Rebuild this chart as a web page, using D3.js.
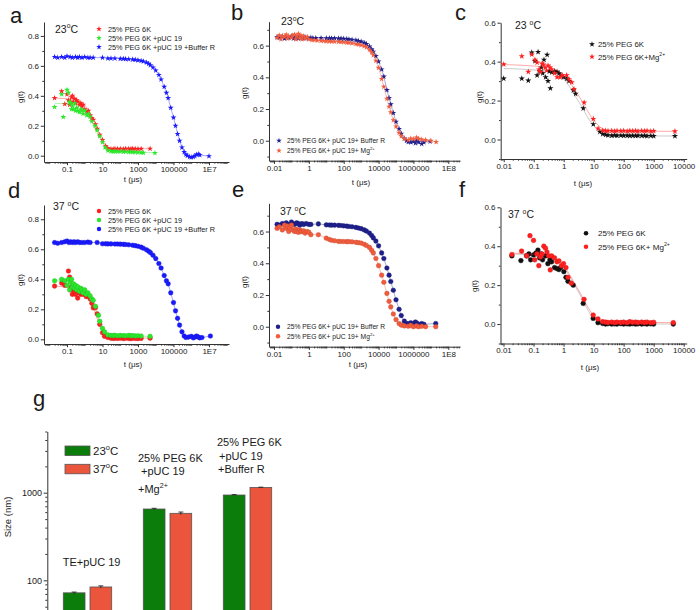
<!DOCTYPE html>
<html>
<head>
<meta charset="utf-8">
<script src="https://cdn.jsdelivr.net/npm/d3@7"></script>
<style>
  body { margin: 0; background: #fff; }
  svg { display: block; }
  text { font-family: "Liberation Sans", Arial, sans-serif; fill: #1a1a1a; }
</style>
</head>
<body>
<svg id="fig" width="700" height="610"></svg>
<script>
// ---- correlation data, [t (us), g(t)] ----

// a: 23 C
const aPeg = [[0.02,0.385],[0.05,0.43],[0.075,0.345],[0.1,0.41],[0.12,0.37],[0.14,0.34],[0.16,0.36],[0.18,0.39],[0.2,0.4],[0.23,0.36],[0.27,0.38],[0.3,0.35],[0.35,0.37],[0.4,0.36],[0.5,0.34],[0.6,0.35],[0.7,0.33],[0.8,0.34],[1,0.31],[1.3,0.29],[1.6,0.3],[2,0.27],[2.5,0.25],[3,0.24],[4,0.21],[5,0.18],[7,0.14],[10,0.105],[15,0.065],[20,0.05],[30,0.045],[40,0.044],[50,0.047],[70,0.045],[100,0.046],[150,0.044],[200,0.047],[300,0.046],[400,0.045],[500,0.047],[700,0.046],[1000,0.045],[1500,0.046],[4800,0.047]];
const aPuc = [[0.02,0.325],[0.05,0.41],[0.062,0.258],[0.1,0.44],[0.12,0.42],[0.14,0.36],[0.16,0.35],[0.18,0.31],[0.2,0.33],[0.23,0.31],[0.27,0.35],[0.3,0.3],[0.35,0.32],[0.4,0.3],[0.5,0.29],[0.6,0.31],[0.7,0.3],[0.8,0.28],[1,0.3],[1.3,0.27],[1.6,0.28],[2,0.26],[2.5,0.23],[3.8,0.2],[5,0.17],[7,0.13],[10,0.09],[14,0.055],[20,0.035],[30,0.03],[40,0.028],[50,0.03],[70,0.027],[100,0.028],[150,0.026],[200,0.027],[300,0.025],[400,0.026],[500,0.024],[700,0.024],[1000,0.022],[1500,0.021],[2000,0.02],[9000,0.018]];
const aBuf = [[0.02,0.66],[0.03,0.655],[0.05,0.66],[0.075,0.655],[0.1,0.665],[0.15,0.66],[0.2,0.655],[0.3,0.66],[0.4,0.655],[0.5,0.66],[0.7,0.655],[1,0.66],[1.5,0.655],[2,0.655],[3,0.655],[10,0.655],[20,0.65],[30,0.65],[50,0.65],[100,0.648],[150,0.647],[200,0.646],[300,0.645],[500,0.643],[700,0.641],[1000,0.638],[1500,0.634],[2000,0.63],[3000,0.622],[4000,0.614],[5000,0.605],[7000,0.59],[1e4,0.57],[1.5e4,0.54],[2e4,0.51],[3e4,0.46],[4e4,0.42],[5e4,0.385],[7e4,0.32],[1e5,0.255],[1.3e5,0.2],[1.7e5,0.145],[2.2e5,0.1],[3e5,0.055],[4e5,0.025],[5e5,0.008],[6e5,0],[8e5,-0.008],[1e6,-0.01],[1.3e6,-0.008],[1.6e6,-0.002],[2e6,0.008],[2.5e6,0.01],[3e6,0.005],[1e7,-0.003]];
const aPegFit = [[0.02,0.385],[0.3,0.375],[1,0.34],[3,0.24],[10,0.1],[30,0.05],[4800,0.046]];
const aPucFit = [[0.02,0.35],[0.3,0.34],[1,0.3],[3,0.21],[10,0.09],[30,0.033],[9000,0.02]];

// d: 37 C
const dPeg = [[0.02,0.355],[0.05,0.375],[0.075,0.36],[0.12,0.455],[0.14,0.415],[0.16,0.33],[0.18,0.35],[0.2,0.3],[0.23,0.34],[0.27,0.32],[0.3,0.3],[0.35,0.33],[0.4,0.275],[0.5,0.31],[0.6,0.3],[0.7,0.32],[0.8,0.3],[1,0.31],[1.2,0.285],[1.5,0.29],[2,0.27],[2.5,0.24],[3,0.21],[4,0.21],[5,0.17],[7,0.1],[10,0.044],[13,0.02],[20,0.012],[30,0.008],[40,0.006],[50,0.008],[70,0.006],[100,0.007],[150,0.005],[200,0.007],[300,0.006],[400,0.005],[500,0.007],[700,0.006],[1000,0.005],[1500,0.006],[4800,0.008]];
const dPuc = [[0.02,0.39],[0.05,0.4],[0.075,0.39],[0.1,0.36],[0.12,0.4],[0.14,0.33],[0.16,0.38],[0.18,0.4],[0.2,0.35],[0.23,0.37],[0.27,0.34],[0.3,0.36],[0.35,0.33],[0.4,0.35],[0.5,0.32],[0.6,0.34],[0.7,0.33],[0.8,0.31],[1,0.33],[1.2,0.3],[1.5,0.31],[2,0.29],[2.5,0.27],[3,0.26],[4,0.22],[5.9,0.16],[7,0.12],[10,0.073],[13,0.05],[20,0.03],[30,0.026],[40,0.025],[50,0.027],[70,0.024],[100,0.026],[150,0.025],[200,0.024],[300,0.026],[400,0.024],[500,0.025],[700,0.023],[1000,0.024],[1500,0.022],[4800,0.02]];
const dBuf = [[0.02,0.645],[0.03,0.64],[0.05,0.645],[0.075,0.65],[0.1,0.655],[0.13,0.645],[0.16,0.65],[0.2,0.645],[0.25,0.65],[0.3,0.645],[0.4,0.65],[0.5,0.645],[0.7,0.645],[1,0.645],[1.5,0.648],[2,0.645],[5,0.645],[10,0.637],[15,0.637],[20,0.636],[30,0.636],[50,0.635],[70,0.635],[100,0.634],[150,0.633],[200,0.632],[300,0.63],[500,0.627],[700,0.624],[1000,0.62],[1500,0.614],[2000,0.607],[3000,0.597],[4000,0.587],[5000,0.578],[7000,0.56],[1e4,0.538],[1.5e4,0.505],[2e4,0.475],[3e4,0.425],[4e4,0.39],[5e4,0.37],[7e4,0.31],[1e5,0.245],[1.3e5,0.19],[1.7e5,0.14],[2.2e5,0.095],[3e5,0.05],[4e5,0.022],[5e5,0.012],[7e5,0.015],[1e6,0.02],[1.3e6,0.01],[1.6e6,0.015],[2e6,0.022],[2.5e6,0.015],[3e6,0.01],[4e6,0.012],[1.2e7,0.022]];
const dPegFit = [[0.02,0.355],[0.3,0.335],[1,0.3],[3,0.21],[10,0.05],[20,0.015],[4800,0.008]];
const dPucFit = [[0.02,0.39],[0.3,0.37],[1,0.33],[3,0.25],[10,0.07],[20,0.03],[4800,0.02]];

// b: 23 C
const bBuf = [[0.015,0.655],[0.02,0.65],[0.03,0.66],[0.04,0.645],[0.05,0.655],[0.07,0.65],[0.1,0.66],[0.13,0.645],[0.17,0.655],[0.2,0.65],[0.25,0.645],[0.3,0.66],[0.4,0.65],[0.5,0.645],[0.6,0.655],[0.8,0.65],[1,0.645],[1.3,0.65],[1.7,0.648],[2.5,0.648],[5,0.648],[10,0.647],[15,0.647],[20,0.646],[30,0.646],[50,0.645],[70,0.645],[100,0.644],[150,0.642],[200,0.64],[300,0.638],[500,0.634],[700,0.63],[1000,0.626],[1500,0.618],[2000,0.61],[3000,0.595],[4000,0.578],[5000,0.562],[7000,0.535],[1e4,0.5],[1.5e4,0.45],[2e4,0.405],[3e4,0.32],[4e4,0.27],[5e4,0.23],[7e4,0.175],[1e5,0.12],[1.5e5,0.075],[2e5,0.045],[3e5,0.015],[4e5,0],[5e5,-0.008],[7e5,-0.01],[1e6,-0.005],[1.3e6,-0.015],[1.6e6,0.002],[2e6,-0.01],[3e6,-0.02],[4e6,-0.01],[9e6,-0.005]];
const bMg = [[0.015,0.65],[0.02,0.665],[0.025,0.64],[0.03,0.66],[0.04,0.655],[0.05,0.67],[0.06,0.645],[0.07,0.66],[0.1,0.65],[0.12,0.665],[0.15,0.67],[0.18,0.64],[0.2,0.66],[0.25,0.675],[0.3,0.65],[0.35,0.665],[0.4,0.64],[0.5,0.66],[0.6,0.645],[0.8,0.655],[1,0.64],[1.5,0.635],[2,0.635],[3,0.632],[5,0.63],[7,0.63],[10,0.628],[15,0.627],[20,0.626],[30,0.625],[50,0.624],[70,0.623],[100,0.622],[150,0.62],[200,0.618],[300,0.615],[500,0.61],[700,0.607],[1000,0.603],[1500,0.597],[2000,0.59],[3000,0.575],[4000,0.558],[5000,0.54],[7000,0.505],[1e4,0.46],[1.5e4,0.39],[2e4,0.34],[3e4,0.265],[4e4,0.215],[5e4,0.18],[7e4,0.13],[1e5,0.09],[1.5e5,0.05],[2e5,0.028],[3e5,0.012],[5e5,0.005],[7e5,0.015],[1e6,0.01],[1.5e6,0.02],[2e6,0.012],[3e6,0.008],[5e6,0.005],[1e7,0],[2e7,-0.008]];

// e: 37 C
const eBuf = [[0.015,0.645],[0.02,0.64],[0.03,0.65],[0.04,0.645],[0.05,0.655],[0.07,0.645],[0.1,0.66],[0.12,0.65],[0.15,0.645],[0.2,0.655],[0.25,0.65],[0.3,0.64],[0.4,0.65],[0.5,0.645],[0.7,0.65],[1,0.645],[1.3,0.645],[3.5,0.648],[10,0.642],[15,0.641],[20,0.64],[30,0.64],[50,0.639],[70,0.638],[100,0.636],[150,0.634],[200,0.632],[300,0.63],[500,0.626],[700,0.622],[1000,0.618],[1500,0.61],[2000,0.603],[3000,0.59],[4000,0.575],[5000,0.56],[7000,0.54],[1e4,0.51],[1.5e4,0.465],[2e4,0.43],[3e4,0.37],[4e4,0.325],[5e4,0.285],[7e4,0.23],[1e5,0.17],[1.5e5,0.11],[2e5,0.07],[3e5,0.035],[4e5,0.02],[5e5,0.018],[7e5,0.025],[1e6,0.02],[1.3e6,0.03],[1.6e6,0.022],[2e6,0.015],[3e6,0.02],[4e6,0.015],[1.9e7,0.02]];
const eMg = [[0.015,0.62],[0.02,0.63],[0.03,0.61],[0.04,0.64],[0.05,0.62],[0.06,0.635],[0.07,0.6],[0.08,0.625],[0.1,0.64],[0.12,0.61],[0.15,0.6],[0.18,0.615],[0.2,0.6],[0.25,0.595],[0.3,0.61],[0.35,0.6],[0.4,0.6],[0.5,0.605],[0.6,0.59],[0.8,0.6],[1,0.595],[1.3,0.58],[3.5,0.58],[10,0.558],[15,0.55],[20,0.545],[30,0.542],[50,0.538],[70,0.537],[100,0.537],[150,0.536],[200,0.536],[300,0.535],[500,0.532],[700,0.53],[1000,0.527],[1500,0.52],[2000,0.512],[3000,0.5],[4000,0.482],[5000,0.465],[7000,0.43],[1e4,0.385],[1.5e4,0.325],[2e4,0.28],[3e4,0.21],[4e4,0.16],[5e4,0.125],[7e4,0.08],[1e5,0.045],[1.5e5,0.02],[2e5,0.01],[3e5,0.005],[5e5,0.003],[7e5,0.008],[1e6,0],[1.5e6,0.005],[2e6,0],[3e6,0.003],[5e6,0],[1.9e7,0]];

// c: 23 C
const cPeg = [[0.01,0.313],[0.04,0.313],[0.066,0.303],[0.086,0.447],[0.11,0.403],[0.13,0.33],[0.14,0.45],[0.16,0.35],[0.18,0.37],[0.2,0.34],[0.22,0.41],[0.25,0.32],[0.28,0.435],[0.3,0.3],[0.33,0.35],[0.36,0.263],[0.4,0.345],[0.5,0.35],[0.6,0.348],[0.7,0.34],[0.8,0.33],[1,0.32],[1.26,0.313],[1.5,0.3],[2.1,0.253],[2.5,0.235],[4.5,0.16],[9.7,0.079],[16,0.04],[20,0.028],[25,0.025],[30,0.022],[40,0.02],[50,0.022],[60,0.02],[80,0.021],[100,0.02],[130,0.02],[160,0.019],[200,0.02],[250,0.019],[300,0.02],[400,0.019],[500,0.02],[600,0.018],[800,0.019],[1000,0.018],[5100,0.018]];
const cMg = [[0.01,0.386],[0.04,0.428],[0.066,0.348],[0.086,0.437],[0.11,0.41],[0.13,0.395],[0.15,0.36],[0.17,0.347],[0.19,0.39],[0.21,0.385],[0.24,0.37],[0.27,0.355],[0.3,0.38],[0.35,0.37],[0.4,0.36],[0.5,0.34],[0.6,0.32],[0.76,0.32],[0.9,0.33],[1.26,0.33],[1.5,0.31],[1.85,0.294],[2.2,0.26],[4.8,0.19],[9.7,0.106],[14,0.057],[20,0.046],[25,0.045],[30,0.044],[40,0.045],[50,0.043],[60,0.045],[80,0.044],[100,0.045],[130,0.043],[160,0.045],[200,0.044],[250,0.045],[300,0.043],[400,0.045],[500,0.044],[600,0.045],[800,0.043],[1000,0.044],[5100,0.042]];
const cPegFit = [[0.01,0.365],[0.3,0.35],[1,0.31],[3,0.2],[10,0.07],[20,0.03],[30,0.02],[5100,0.018]];
const cMgFit = [[0.01,0.385],[0.3,0.37],[1,0.33],[3,0.23],[10,0.1],[20,0.055],[40,0.045],[5100,0.042]];

// f: 37 C
const fPeg = [[0.019,0.35],[0.038,0.326],[0.059,0.351],[0.07,0.36],[0.08,0.33],[0.1,0.355],[0.12,0.365],[0.14,0.38],[0.16,0.34],[0.18,0.36],[0.2,0.33],[0.25,0.35],[0.3,0.31],[0.35,0.33],[0.4,0.32],[0.5,0.29],[0.6,0.285],[0.7,0.28],[0.8,0.29],[1.02,0.269],[1.2,0.24],[1.4,0.22],[2.1,0.2],[4.5,0.106],[9.7,0.029],[14,0.007],[20,0.003],[25,0],[30,0.002],[40,0],[50,0.001],[60,0],[80,0.002],[100,0],[130,0.001],[160,0],[200,0.002],[250,0],[300,0.001],[400,0],[500,0.002],[600,0],[800,0.001],[1000,0],[4500,0]];
const fMg = [[0.019,0.357],[0.04,0.375],[0.059,0.35],[0.076,0.454],[0.1,0.43],[0.11,0.33],[0.13,0.36],[0.15,0.3],[0.17,0.345],[0.19,0.36],[0.22,0.4],[0.25,0.39],[0.28,0.37],[0.32,0.35],[0.36,0.278],[0.4,0.35],[0.5,0.34],[0.6,0.32],[0.7,0.325],[0.85,0.3],[1,0.31],[1.2,0.29],[1.4,0.24],[1.8,0.21],[4.8,0.127],[9.7,0.046],[14,0.026],[20,0.012],[25,0.01],[30,0.008],[40,0.01],[50,0.007],[60,0.01],[80,0.008],[100,0.01],[130,0.007],[160,0.012],[200,0.009],[250,0.01],[300,0.008],[400,0.01],[500,0.008],[600,0.01],[800,0.007],[1000,0.009],[4500,0.007]];
const fPegFit = [[0.019,0.36],[0.3,0.345],[1,0.29],[3,0.17],[10,0.03],[20,0.003],[4500,0]];
const fMgFit = [[0.019,0.365],[0.3,0.35],[1,0.3],[3,0.18],[10,0.045],[20,0.012],[4500,0.007]];

// tick labels
const ticksAD = [[0.1,"0.1"],[10,"10"],[1000,"1000"],[1e5,"100000"],[1e7,"1E7"]];
const ticksBE = [[0.01,"0.01"],[1,"1"],[100,"100"],[1e4,"10000"],[1e6,"1000000"],[1e8,"1E8"]];
const ticksCF = [[0.01,"0.01"],[0.1,"0.1"],[1,"1"],[10,"10"],[100,"100"],[1000,"1000"],[1e4,"10000"]];

// g: hydrodynamic size (nm)
const sizeGroups = ["TE+pUC 19", "PEG+pUC+Mg", "PEG+pUC+BufferR"];
const temps = ["23", "37"];
const size23 = [72, 652, 942];
const size37 = [84, 582, 1150];
const err23 = [1.5, 12, 10];
const err37 = [2.5, 20, 8];

const svg = d3.select("#fig");

// text with superscript parts: strings or {sup: "..."}
function richText(parent, x, y, parts, size, anchor) {
  const t = parent.append("text").attr("x", x).attr("y", y)
    .attr("font-size", size).attr("text-anchor", anchor || "start");
  let shift = 0;
  parts.forEach(p => {
    const sup = typeof p !== "string";
    const want = sup ? -size * 0.42 : 0;
    const ts = t.append("tspan").text(sup ? p.sup : p).attr("dy", want - shift);
    if (sup) ts.attr("font-size", size * 0.65);
    shift = want;
  });
  return t;
}

function dlsPanel(p) {
  const x = d3.scaleLog().domain(p.xDomain).range([p.left, p.right]);
  const y = d3.scaleLinear().domain(p.yDomain).range([p.bottom, p.top]);
  const g = svg.append("g").attr("color", "#333");

  // x axis: minor ticks, then labelled decades
  const e0 = Math.floor(Math.log10(p.xDomain[0])), e1 = Math.ceil(Math.log10(p.xDomain[1]));
  const labels = new Map(p.xTicks.map(([v, l]) => [Math.round(Math.log10(v)), l]));
  const minor = [], major = [];
  for (let e = e0; e <= e1; e++) {
    for (let m = 1; m < 10; m++) {
      const v = m * Math.pow(10, e);
      if (v < p.xDomain[0] || v > p.xDomain[1]) continue;
      if (m === 1 && labels.has(e)) major.push(v); else minor.push(v);
    }
  }
  g.append("g").attr("transform", `translate(0,${p.bottom})`)
    .call(d3.axisBottom(x).tickValues(minor).tickSize(1.7).tickFormat(""))
    .call(a => a.select(".domain").remove());
  g.append("g").attr("transform", `translate(0,${p.bottom})`)
    .call(d3.axisBottom(x).tickValues(major).tickSize(3.2).tickSizeOuter(0).tickPadding(1)
      .tickFormat(v => labels.get(Math.round(Math.log10(v)))))
    .attr("font-size", 8).attr("font-family", "Liberation Sans, Arial, sans-serif");

  // y axis
  g.append("g").attr("transform", `translate(${p.left},0)`)
    .call(d3.axisLeft(y).tickValues(p.yMinor).tickSize(1.7).tickFormat(""))
    .call(a => a.select(".domain").remove());
  g.append("g").attr("transform", `translate(${p.left},0)`)
    .call(d3.axisLeft(y).tickValues(p.yTicks).tickSize(3.2).tickSizeOuter(0).tickPadding(1.8)
      .tickFormat(d3.format(".1f")))
    .attr("font-size", 8).attr("font-family", "Liberation Sans, Arial, sans-serif");

  const symType = p.marker === "star" ? d3.symbolStar : d3.symbolCircle;
  const sym = d3.symbol(symType).size(p.markerSize);

  // series: fit / guide line then markers
  p.series.forEach(s => {
    const line = d3.line().x(d => x(d[0])).y(d => y(d[1]));
    if (s.fit) line.curve(d3.curveMonotoneX);
    g.append("path").datum(s.fit || s.data).attr("d", line)
      .attr("fill", "none").attr("stroke", s.line || s.color)
      .attr("stroke-width", 0.7).attr("opacity", 0.55);
    g.append("g").selectAll("path").data(s.data).join("path")
      .attr("transform", d => `translate(${x(d[0])},${y(d[1])})`)
      .attr("d", sym).attr("fill", s.color)
      .attr("stroke", p.marker === "star" ? "none" : d3.color(s.color).darker(0.6))
      .attr("stroke-width", 0.4);
  });

  // legend
  const lg = p.legend;
  p.series.forEach((s, i) => {
    const cy = lg.rows[i];
    g.append("path").attr("transform", `translate(${lg.mx},${cy})`)
      .attr("d", d3.symbol(symType).size(p.markerSize * 0.9)).attr("fill", s.color);
    richText(g, lg.tx, cy + lg.size * 0.36, s.label, lg.size);
  });

  // temperature, axis titles, panel letter
  richText(g, p.temp.x, p.temp.y, [p.temp.text, {sup: "o"}, "C"], 10.5);
  g.append("text").attr("transform", `translate(${p.gLab[0]},${p.gLab[1]}) rotate(-90)`)
    .attr("text-anchor", "middle").attr("font-size", 8).text("g(t)");
  g.append("text").attr("x", p.tLab[0]).attr("y", p.tLab[1])
    .attr("text-anchor", "middle").attr("font-size", 8).text("t (\u03bcs)");
  g.append("text").attr("x", p.letter[0]).attr("y", p.letter[1])
    .attr("font-size", 22).text(p.letter[2]);
}

const RED = "#ff1f1f", GREEN = "#2be82b", BLUE = "#1a1aff";
const NAVY = "#1f1f8c", CORAL = "#f25c3d", BLACK = "#111111";

dlsPanel({
  left: 44, right: 229, top: 22, bottom: 162,
  xDomain: [0.00506, 1.34e8], yDomain: [-0.042, 0.893],
  xTicks: ticksAD, yTicks: [0, 0.2, 0.4, 0.6, 0.8], yMinor: [0.1, 0.3, 0.5, 0.7],
  marker: "star", markerSize: 11,
  series: [
    {data: aPeg, fit: aPegFit, color: RED, label: ["25% PEG 6K"]},
    {data: aPuc, fit: aPucFit, color: GREEN, label: ["25% PEG 6K +pUC 19"]},
    {data: aBuf, color: BLUE, label: ["25% PEG 6K +pUC 19 +Buffer R"]}
  ],
  legend: {mx: 99, tx: 108, rows: [29, 38, 47], size: 7.3},
  temp: {x: 55, y: 32.5, text: "23"},
  gLab: [23, 97], tLab: [133, 182], letter: [10, 23, "a"]
});

dlsPanel({
  left: 44, right: 229, top: 205, bottom: 344,
  xDomain: [0.00506, 1.34e8], yDomain: [-0.031, 0.895],
  xTicks: ticksAD, yTicks: [0, 0.2, 0.4, 0.6, 0.8], yMinor: [0.1, 0.3, 0.5, 0.7],
  marker: "circle", markerSize: 17,
  series: [
    {data: dPeg, fit: dPegFit, color: RED, label: ["25% PEG 6K"]},
    {data: dPuc, fit: dPucFit, color: GREEN, label: ["25% PEG 6K +pUC 19"]},
    {data: dBuf, color: BLUE, label: ["25% PEG 6K +pUC 19 +Buffer R"]}
  ],
  legend: {mx: 99, tx: 108, rows: [211, 220, 229], size: 7.3},
  temp: {x: 53, y: 210, text: "37 "},
  gLab: [23, 280], tLab: [133, 367], letter: [8, 198, "d"]
});

dlsPanel({
  left: 269, right: 460, top: 21.7, bottom: 160.7,
  xDomain: [0.00516, 4.69e8], yDomain: [-0.126, 0.751],
  xTicks: ticksBE, yTicks: [0, 0.2, 0.4, 0.6], yMinor: [-0.1, 0.1, 0.3, 0.5, 0.7],
  marker: "star", markerSize: 11,
  series: [
    {data: bBuf, color: NAVY, label: ["25% PEG 6K+ pUC 19+ Buffer R"]},
    {data: bMg, color: CORAL, label: ["25% PEG 6K+ pUC 19+ Mg", {sup: "2+"}]}
  ],
  legend: {mx: 279, tx: 287, rows: [140.7, 150.7], size: 6.7},
  temp: {x: 281, y: 25, text: "23"},
  gLab: [247, 93], tLab: [361, 184.5], letter: [231, 20, "b"]
});

dlsPanel({
  left: 269, right: 460, top: 203.3, bottom: 346.7,
  xDomain: [0.00516, 4.69e8], yDomain: [-0.126, 0.778],
  xTicks: ticksBE, yTicks: [0, 0.2, 0.4, 0.6], yMinor: [-0.1, 0.1, 0.3, 0.5, 0.7],
  marker: "circle", markerSize: 17,
  series: [
    {data: eBuf, color: NAVY, label: ["25% PEG 6K+ pUC 19+ Buffer R"]},
    {data: eMg, color: CORAL, label: ["25% PEG 6K+ pUC 19+ Mg", {sup: "2+"}]}
  ],
  legend: {mx: 278, tx: 287, rows: [326.7, 336.3], size: 6.7},
  temp: {x: 280, y: 215, text: "37 "},
  gLab: [247, 282], tLab: [358, 367], letter: [232, 197, "e"]
});

dlsPanel({
  left: 500.7, right: 686.7, top: 22.7, bottom: 159,
  xDomain: [0.00794, 12590], yDomain: [-0.1, 0.6],
  xTicks: ticksCF, yTicks: [0, 0.2, 0.4, 0.6], yMinor: [-0.1, 0.1, 0.3, 0.5],
  marker: "star", markerSize: 12,
  series: [
    {data: cPeg, fit: cPegFit, color: BLACK, line: "#777", label: ["25% PEG 6K"]},
    {data: cMg, fit: cMgFit, color: RED, label: ["25% PEG 6K+Mg", {sup: "2+"}]}
  ],
  legend: {mx: 592, tx: 598, rows: [44.3, 56.7], size: 7.8},
  temp: {x: 515, y: 29.3, text: "23 "},
  gLab: [482, 97], tLab: [583, 186], letter: [455, 20, "c"]
});

dlsPanel({
  left: 500.5, right: 686.7, top: 207.3, bottom: 343.5,
  xDomain: [0.00794, 12590], yDomain: [-0.1, 0.6],
  xTicks: ticksCF, yTicks: [0, 0.2, 0.4, 0.6], yMinor: [-0.1, 0.1, 0.3, 0.5],
  marker: "circle", markerSize: 18,
  series: [
    {data: fPeg, fit: fPegFit, color: BLACK, line: "#777", label: ["25% PEG 6K"]},
    {data: fMg, fit: fMgFit, color: RED, label: ["25% PEG 6K+ Mg", {sup: "2+"}]}
  ],
  legend: {mx: 586, tx: 598, rows: [233.3, 246.7], size: 8.1},
  temp: {x: 508, y: 218, text: "37 "},
  gLab: [477, 286], tLab: [590, 370], letter: [459, 197, "f"]
});

// ---- panel g: bar chart on log axis ----
(function sizeChart() {
  const g = svg.append("g").attr("color", "#333");
  const y = d3.scaleLog().domain([40, 5000]).range([615.2, 431.5]);
  const x0 = d3.scaleBand().domain(sizeGroups).range([47.5, 287.5])
    .paddingInner(0.395).paddingOuter(0.1975);
  const x1 = d3.scaleBand().domain(temps).range([0, x0.bandwidth()]).paddingInner(0.187);
  const fills = {"23": "#0b7d0b", "37": "#ea553b"};

  const minor = [50, 60, 70, 80, 90, 200, 300, 400, 500, 600, 700, 800, 900, 2000, 3000, 4000, 5000];
  g.append("g").attr("transform", "translate(47.3,0)")
    .call(d3.axisLeft(y).tickValues(minor).tickSize(2).tickFormat(""))
    .call(a => a.select(".domain").remove());
  g.append("g").attr("transform", "translate(47.3,0)")
    .call(d3.axisLeft(y).tickValues([100, 1000]).tickSize(3.6).tickSizeOuter(0)
      .tickPadding(1.6).tickFormat(d3.format("d")))
    .attr("font-size", 9).attr("font-family", "Liberation Sans, Arial, sans-serif");

  const rows = sizeGroups.map((k, i) => [
    {grp: k, temp: "23", v: size23[i], e: err23[i]},
    {grp: k, temp: "37", v: size37[i], e: err37[i]}
  ]).flat();

  g.selectAll("rect.bar").data(rows).join("rect").attr("class", "bar")
    .attr("x", d => x0(d.grp) + x1(d.temp))
    .attr("y", d => y(d.v))
    .attr("width", x1.bandwidth())
    .attr("height", d => y(40) - y(d.v))
    .attr("fill", d => fills[d.temp])
    .attr("stroke", "#555").attr("stroke-width", 0.8);

  const eb = g.selectAll("g.err").data(rows).join("g").attr("class", "err")
    .attr("transform", d => `translate(${x0(d.grp) + x1(d.temp) + x1.bandwidth() / 2},0)`);
  eb.append("line").attr("y1", d => y(d.v + d.e)).attr("y2", d => y(d.v - d.e))
    .attr("stroke", "#111").attr("stroke-width", 0.8);
  eb.append("line").attr("x1", -2.5).attr("x2", 2.5)
    .attr("y1", d => y(d.v + d.e)).attr("y2", d => y(d.v + d.e))
    .attr("stroke", "#111").attr("stroke-width", 0.8);

  // legend
  temps.forEach((t, i) => {
    const ly = [446, 464.3][i];
    g.append("rect").attr("x", 65).attr("y", ly).attr("width", 25).attr("height", 9.5)
      .attr("fill", fills[t]).attr("stroke", "#555").attr("stroke-width", 0.8);
    richText(g, 93, ly + 8.8, [t, {sup: "o"}, "C"], 11.5);
  });

  // group labels
  richText(g, 62.7, 566, ["TE+pUC 19"], 11);
  richText(g, 138, 462.3, ["25% PEG 6K"], 11);
  richText(g, 141, 474.5, [" +pUC 19"], 11);
  richText(g, 138, 492.7, ["+Mg", {sup: "2+"}], 11);
  richText(g, 217, 446, ["25% PEG 6K"], 11);
  richText(g, 219, 460, [" +pUC 19"], 11);
  richText(g, 218, 473.3, ["+Buffer R"], 11);

  g.append("text").attr("transform", "translate(10.5,517) rotate(-90)")
    .attr("text-anchor", "middle").attr("font-size", 9.5).text("Size (nm)");
  g.append("text").attr("x", 33).attr("y", 406).attr("font-size", 22).text("g");
})();
</script>
</body>
</html>
